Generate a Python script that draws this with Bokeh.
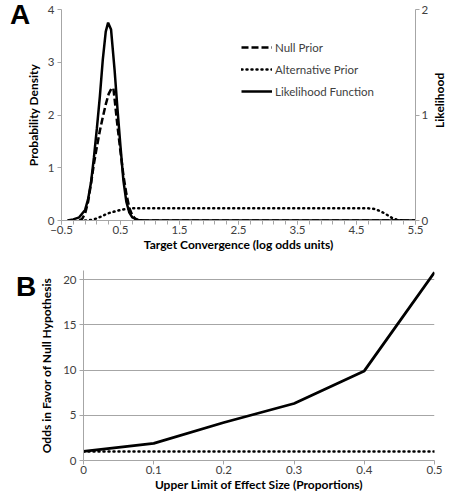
from bokeh.plotting import figure
from bokeh.models import Range1d, LinearAxis, FixedTicker, Legend, LegendItem, Div
from bokeh.layouts import column, row
from bokeh.embed import file_html
from bokeh.resources import INLINE

# ---- Panel A data ----
lik_x = [-0.4, -0.3, -0.2, -0.1, -0.05, 0.0, 0.05, 0.1, 0.15, 0.2, 0.25, 0.29, 0.34, 0.4,
         0.45, 0.5, 0.55, 0.6, 0.65, 0.7, 0.8, 0.9, 5.5]
lik_y = [0, 0.01, 0.03, 0.1, 0.2, 0.36, 0.6, 0.875, 1.175, 1.525, 1.79, 1.875, 1.81, 1.425,
         1.05, 0.7, 0.375, 0.175, 0.075, 0.03, 0.005, 0, 0]

null_x = [-0.2, -0.15, -0.1, -0.05, 0.0, 0.05, 0.1, 0.15, 0.2, 0.25, 0.3, 0.35, 0.38, 0.4,
          0.45, 0.5, 0.55, 0.6, 0.65, 0.7, 0.75, 0.8, 5.5]
null_y = [0, 0.03, 0.13, 0.35, 0.7, 1.08, 1.4, 1.7, 1.96, 2.2, 2.4, 2.51, 2.5, 2.3,
          1.78, 1.3, 0.85, 0.5, 0.24, 0.1, 0.03, 0, 0]

alt_x = [-0.1, 0.0, 0.1, 0.2, 0.3, 0.4, 0.5, 0.6, 0.7, 4.7, 4.8, 4.9, 5.0, 5.1, 5.2, 5.3]
alt_y = [0, 0.01, 0.04, 0.09, 0.14, 0.17, 0.2, 0.22, 0.23, 0.23, 0.22, 0.18, 0.12, 0.05, 0.01, 0]

a_xticks = [-0.5, 0.5, 1.5, 2.5, 3.5, 4.5, 5.5]
a_yticks = [0, 1, 2, 3, 4]
a_rticks = [0, 1, 2]

# ---- Panel B data ----
limit = [0, 0.1, 0.2, 0.3, 0.4, 0.5]
odds = [1.0, 1.9, 4.2, 6.3, 9.9, 20.8]
even = [1, 1, 1, 1, 1, 1]
b_xticks = [0, 0.1, 0.2, 0.3, 0.4, 0.5]
b_yticks = [0, 5, 10, 15, 20]

FONT = "Lato"
AX_COL = "#a6a6a6"
TICK_COL = "#404040"


def style_axis(ax):
    ax.axis_line_color = AX_COL
    ax.major_tick_line_color = AX_COL
    ax.minor_tick_line_color = AX_COL
    ax.major_tick_in = 0
    ax.major_tick_out = 4
    ax.minor_tick_in = 0
    ax.minor_tick_out = 4
    ax.major_label_text_font = FONT
    ax.major_label_text_font_size = "11.5px"
    ax.major_label_text_color = TICK_COL
    ax.axis_label_text_font = FONT
    ax.axis_label_text_font_style = "bold"
    ax.axis_label_text_font_size = "12px"
    ax.axis_label_text_color = "#000000"


# ---------------- Panel A ----------------
pA = figure(width=409, height=254, output_backend="svg", toolbar_location=None,
            x_range=Range1d(-0.5, 5.5), y_range=Range1d(0, 4),
            min_border_left=33, min_border_top=9, min_border_bottom=32, min_border_right=12,
            margin=(0, 0, -12, 0))
pA.extra_y_ranges = {"lik": Range1d(0, 2)}
pA.outline_line_color = None
pA.grid.visible = False
pA.background_fill_alpha = 0
pA.border_fill_alpha = 0

minor_a = [round(-0.5 + 0.2 * i, 2) for i in range(31)]
pA.xaxis.ticker = FixedTicker(ticks=a_xticks, minor_ticks=minor_a)
pA.yaxis.ticker = FixedTicker(ticks=a_yticks, minor_ticks=[])
pA.xaxis.axis_label = "Target Convergence (log odds units)"
pA.yaxis.axis_label = "Probability Density"
style_axis(pA.xaxis[0])
style_axis(pA.yaxis[0])
pA.xaxis.major_label_standoff = 1
pA.xaxis.axis_label_standoff = 0
pA.yaxis.major_label_standoff = 3
pA.yaxis.axis_label_standoff = 4

rax = LinearAxis(y_range_name="lik", ticker=FixedTicker(ticks=a_rticks, minor_ticks=[]))
style_axis(rax)
rax.major_label_standoff = 2
pA.add_layout(rax, "right")

r_null = pA.line(null_x, null_y, line_color="black", line_width=2.5, line_dash="7 3")
r_alt = pA.line(alt_x, alt_y, line_color="black", line_width=2.5, line_dash="1 4",
                line_cap="round")
r_lik = pA.line(lik_x, lik_y, y_range_name="lik", line_color="black", line_width=2.5)

leg = Legend(items=[LegendItem(label="Null Prior", renderers=[r_null]),
                    LegendItem(label="Alternative Prior", renderers=[r_alt]),
                    LegendItem(label="Likelihood Function", renderers=[r_lik])],
             location=(180, 119), orientation="vertical")
leg.border_line_color = None
leg.background_fill_alpha = 0
leg.label_text_font = FONT
leg.label_text_font_size = "11.5px"
leg.label_text_color = TICK_COL
leg.glyph_width = 31
leg.glyph_height = 20
leg.label_height = 20
leg.spacing = 2
leg.padding = 0
leg.margin = 0
leg.label_standoff = 3
pA.add_layout(leg)

divA = Div(text='<div style="font-family:\'Liberation Sans\';font-weight:bold;'
                'font-size:28px;line-height:28px;margin:0;padding:1px 0 0 10px;">A</div>',
           width=22, height=242, margin=0)

divL = Div(text='<div style="height:200px;display:flex;align-items:center;'
                'justify-content:center;writing-mode:vertical-rl;transform:rotate(180deg);'
                'font-family:Lato;font-weight:bold;font-size:12px;color:#000;">Likelihood</div>',
           width=14, height=242, margin=0)

# ---------------- Panel B ----------------
pB = figure(width=413, height=252, output_backend="svg", toolbar_location=None,
            x_range=Range1d(0, 0.5), y_range=Range1d(0, 21),
            min_border_left=53, min_border_top=28, min_border_bottom=30, min_border_right=9,
            margin=(0, 0, -10, 0))
pB.outline_line_color = None
pB.background_fill_alpha = 0
pB.border_fill_alpha = 0
pB.xgrid.visible = False
pB.ygrid.grid_line_color = AX_COL
pB.ygrid.grid_line_width = 1.2
pB.xaxis.ticker = FixedTicker(ticks=b_xticks, minor_ticks=[])
pB.yaxis.ticker = FixedTicker(ticks=b_yticks, minor_ticks=[])
pB.ygrid.ticker = FixedTicker(ticks=b_yticks[1:], minor_ticks=[])
pB.xaxis.axis_label = "Upper Limit of Effect Size (Proportions)"
pB.yaxis.axis_label = "Odds in Favor of Null Hypothesis"
style_axis(pB.xaxis[0])
style_axis(pB.yaxis[0])
pB.xaxis.major_label_standoff = 1
pB.xaxis.axis_label_standoff = 0
pB.yaxis.major_label_standoff = 3
pB.yaxis.axis_label_standoff = 6

pB.line(limit, even, line_color="black", line_width=2.5, line_dash="1 4", line_cap="round")
pB.line(limit, odds, line_color="black", line_width=2.8)

divB = Div(text='<div style="font-family:\'Liberation Sans\';font-weight:bold;'
                'font-size:28px;line-height:28px;margin:0;padding:31px 0 0 16px;">B</div>',
           width=30, height=242, margin=0)

layout = column(row(divA, pA, divL, spacing=0), row(divB, pB, spacing=0), spacing=0)
open("out.html", "w").write(file_html(layout, INLINE))
